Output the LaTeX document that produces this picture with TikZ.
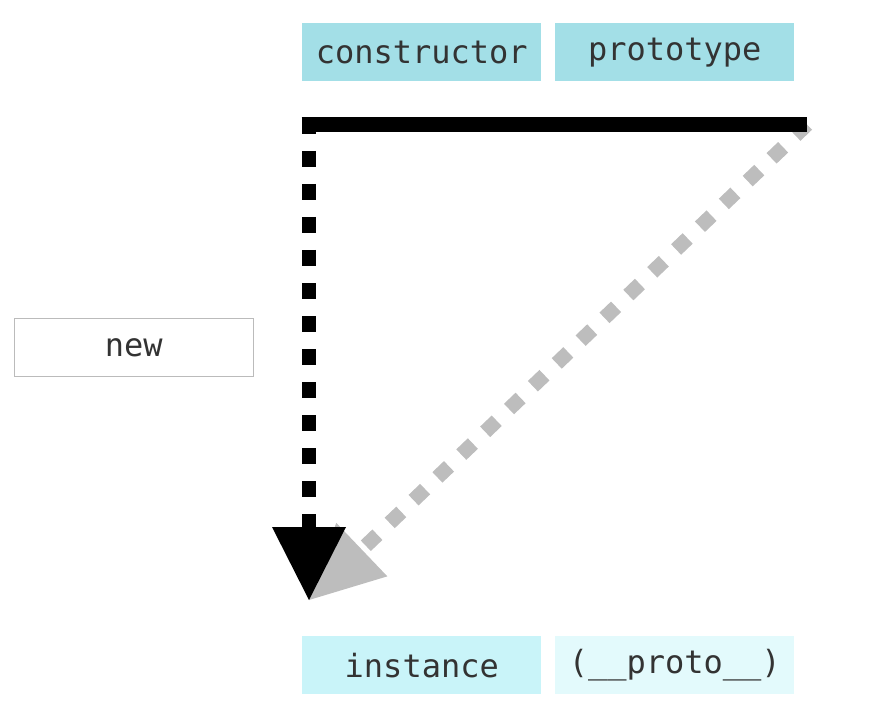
\documentclass[tikz,border=0pt]{standalone}
\usepackage{fontspec}
\setmonofont{DejaVu Sans Mono}
\usetikzlibrary{arrows.meta}

\definecolor{ctorblue}{HTML}{A3DFE7}
\definecolor{instblue}{HTML}{C9F4F9}
\definecolor{protoblue}{HTML}{E3FAFC}
\definecolor{textgray}{HTML}{333333}
\definecolor{framegray}{HTML}{BBBBBB}
\definecolor{linkgray}{HTML}{BDBDBD}

\tikzset{
  keybox/.style={anchor=north west, inner sep=0pt, minimum width=179.25pt, minimum height=43.5pt, text=textgray, font=\ttfamily\fontsize{24}{28}\selectfont},
  bar/.style={line width=10.9pt},
  dashbar/.style={line width=10.9pt, dash pattern=on 12pt off 12.75pt},
  bigtip/.style={-{Triangle[length=54.75pt,width=55.5pt,line width=0pt]}}
}

\begin{document}
\begin{tikzpicture}[x=0.75pt,y=0.75pt,yscale=-1,xscale=1]
\useasboundingbox (0,0) rectangle (888,720);

% Text Node
\node (ctor) at (302,23) [keybox, fill=ctorblue] {constructor};
% Text Node
\node (proto) at (555,23) [keybox, fill=ctorblue] {prototype};
% Text Node
\node (new) at (14,318) [keybox, draw=framegray, fill=white] {new};
% Text Node
\node (inst) at (302,636) [keybox, fill=instblue] {instance};
% Text Node
\node (dunder) at (555,636) [keybox, fill=protoblue] {(\_\_proto\_\_)};

% Ends of the bar and the arrow tip
\coordinate (barL) at (301.7,124.5);
\coordinate (barR) at (807,124.5);
\coordinate (drop) at (309,118);
\coordinate (tip) at (309,600);

% Gray diagonal link
\draw [dashbar, linkgray, bigtip] (barR) -- (tip);
% Black bar and drop
\draw [bar] (barL) -- (barR);
\draw [dashbar, bigtip] (drop) -- (tip);

\end{tikzpicture}
\end{document}
